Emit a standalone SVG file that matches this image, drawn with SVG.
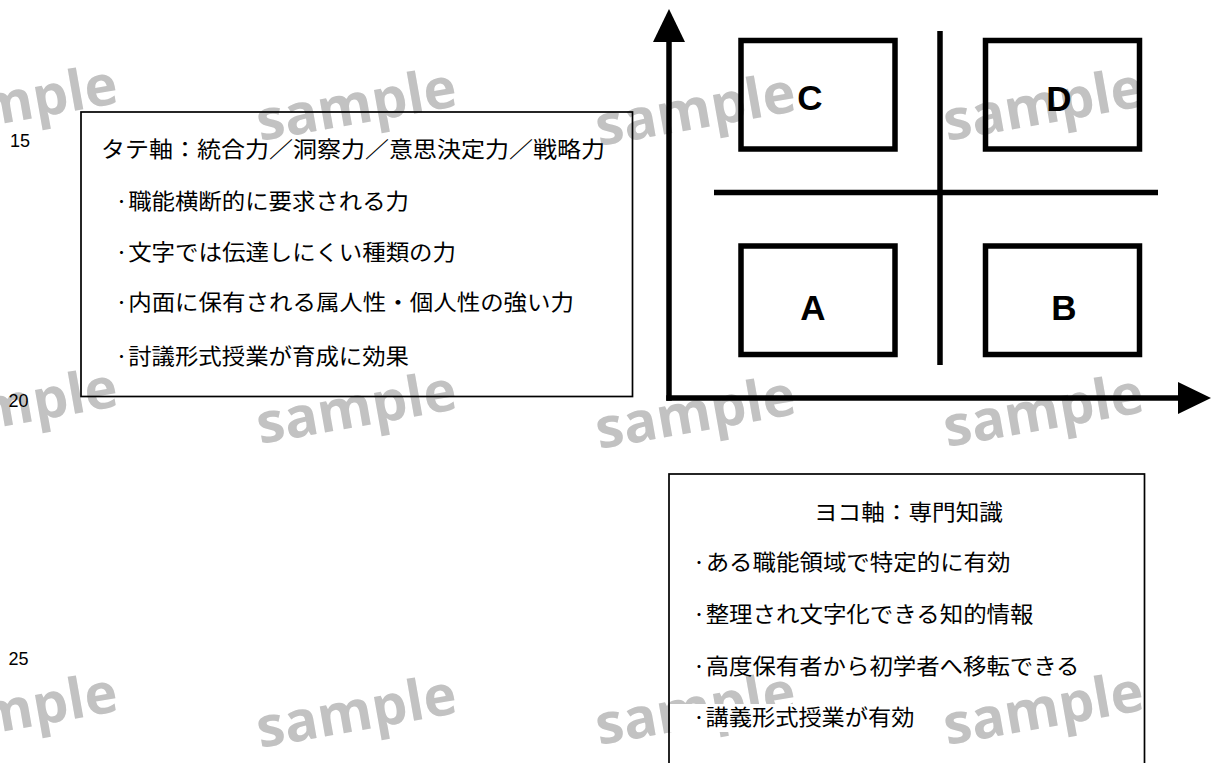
<svg xmlns="http://www.w3.org/2000/svg" width="1211" height="763" viewBox="0 0 1211 763">
  <style>
    .wm { font-family: "Open Sans", "Noto Sans", sans-serif; font-weight: 700; font-size: 56px; fill: #c2c2c2; }
    .ln { font-family: "Liberation Sans", Arial, sans-serif; font-size: 18px; fill: #000; }
    .jp { font-family: "Noto Sans CJK JP", "Noto Sans", sans-serif; font-size: 22px; fill: #000; }
    .box { fill: none; stroke: #000; stroke-width: 1.7; }
    .bg { fill: #fff; }
    .quad { fill: none; stroke: #000; stroke-width: 5.5; }
    .qlabel { font-family: "Liberation Sans", Arial, sans-serif; font-weight: 700; font-size: 35px; fill: #000; text-anchor: middle; }
    .div { stroke: #000; stroke-width: 5.5; }
    .axis { stroke: #000; stroke-width: 5.5; fill: none; }
  </style>
  <defs>
    <marker id="arrow" viewBox="0 0 33 32" markerWidth="33" markerHeight="32" refX="0" refY="16" orient="auto" markerUnits="userSpaceOnUse">
      <path d="M0,0 L33,16 L0,32 z" fill="#000"/>
    </marker>
  </defs>
  <rect width="1211" height="763" fill="#fff"/>

  <g id="watermarks">
    <text class="wm" x="-79" y="138" transform="rotate(-10 -79 138)">sample</text>
    <text class="wm" x="260" y="141" transform="rotate(-10 260 141)">sample</text>
    <text class="wm" x="599" y="146" transform="rotate(-10 599 146)">sample</text>
    <text class="wm" x="947" y="141" transform="rotate(-10 947 141)">sample</text>
    <text class="wm" x="-79" y="441" transform="rotate(-10 -79 441)">sample</text>
    <text class="wm" x="260" y="444" transform="rotate(-10 260 444)">sample</text>
    <text class="wm" x="599" y="449" transform="rotate(-10 599 449)">sample</text>
    <text class="wm" x="947" y="447" transform="rotate(-10 947 447)">sample</text>
    <text class="wm" x="-79" y="746" transform="rotate(-10 -79 746)">sample</text>
    <text class="wm" x="260" y="748" transform="rotate(-10 260 748)">sample</text>
    <text class="wm" x="599" y="745" transform="rotate(-10 599 745)">sample</text>
    <text class="wm" x="947" y="745" transform="rotate(-10 947 745)">sample</text>
  </g>

  <g id="line-numbers">
    <text class="ln" x="10" y="147">15</text>
    <text class="ln" x="8.5" y="406.5">20</text>
    <text class="ln" x="8.5" y="665">25</text>
  </g>

  <g id="vertical-axis-box">
    <rect class="box" x="81" y="112" width="551.5" height="284.5"/>
    <text class="jp" x="101" y="157" textLength="504" lengthAdjust="spacingAndGlyphs">タテ軸：統合力／洞察力／意思決定力／戦略力</text>
    <text class="jp" x="115" y="208.5" textLength="294" lengthAdjust="spacingAndGlyphs">·職能横断的に要求される力</text>
    <text class="jp" x="115" y="260" textLength="341" lengthAdjust="spacingAndGlyphs">·文字では伝達しにくい種類の力</text>
    <text class="jp" x="115" y="310" textLength="459" lengthAdjust="spacingAndGlyphs">·内面に保有される属人性・個人性の強い力</text>
    <text class="jp" x="115" y="363.5" textLength="294" lengthAdjust="spacingAndGlyphs">·討議形式授業が育成に効果</text>
  </g>

  <g id="horizontal-axis-box">
    <rect class="box" x="669" y="474" width="475.5" height="300"/>
    <text class="jp" x="814" y="520" textLength="189" lengthAdjust="spacingAndGlyphs">ヨコ軸：専門知識</text>
    <text class="jp" x="692.5" y="570" textLength="318" lengthAdjust="spacingAndGlyphs">·ある職能領域で特定的に有効</text>
    <text class="jp" x="692.5" y="621.5" textLength="341" lengthAdjust="spacingAndGlyphs">·整理され文字化できる知的情報</text>
    <text class="jp" x="692.5" y="673.5" textLength="387" lengthAdjust="spacingAndGlyphs">·高度保有者から初学者へ移転できる</text>
    <rect class="bg" x="670" y="704" width="246" height="28"/>
    <text class="jp" x="692.5" y="725" textLength="222" lengthAdjust="spacingAndGlyphs">·講義形式授業が有効</text>
  </g>

  <g id="dividers">
    <line class="div" x1="940" y1="31" x2="940" y2="365"/>
    <line class="div" x1="714" y1="192.5" x2="1158" y2="192.5"/>
  </g>

  <g id="quadrant-C">
    <rect class="quad" x="741" y="40.5" width="154" height="108.5"/>
    <text class="qlabel" x="810" y="110">C</text>
  </g>
  <g id="quadrant-D">
    <rect class="quad" x="985.5" y="40.5" width="154" height="108.5"/>
    <text class="qlabel" x="1059" y="111">D</text>
  </g>
  <g id="quadrant-A">
    <rect class="quad" x="741" y="246" width="154" height="108.5"/>
    <text class="qlabel" x="813" y="320">A</text>
  </g>
  <g id="quadrant-B">
    <rect class="quad" x="985.5" y="246" width="154" height="108.5"/>
    <text class="qlabel" x="1064" y="320">B</text>
  </g>

  <g id="connectors">
    <line class="axis" x1="669" y1="400.75" x2="669" y2="42" marker-end="url(#arrow)"/>
    <line class="axis" x1="666.25" y1="398" x2="1178" y2="398" marker-end="url(#arrow)"/>
  </g>
</svg>
